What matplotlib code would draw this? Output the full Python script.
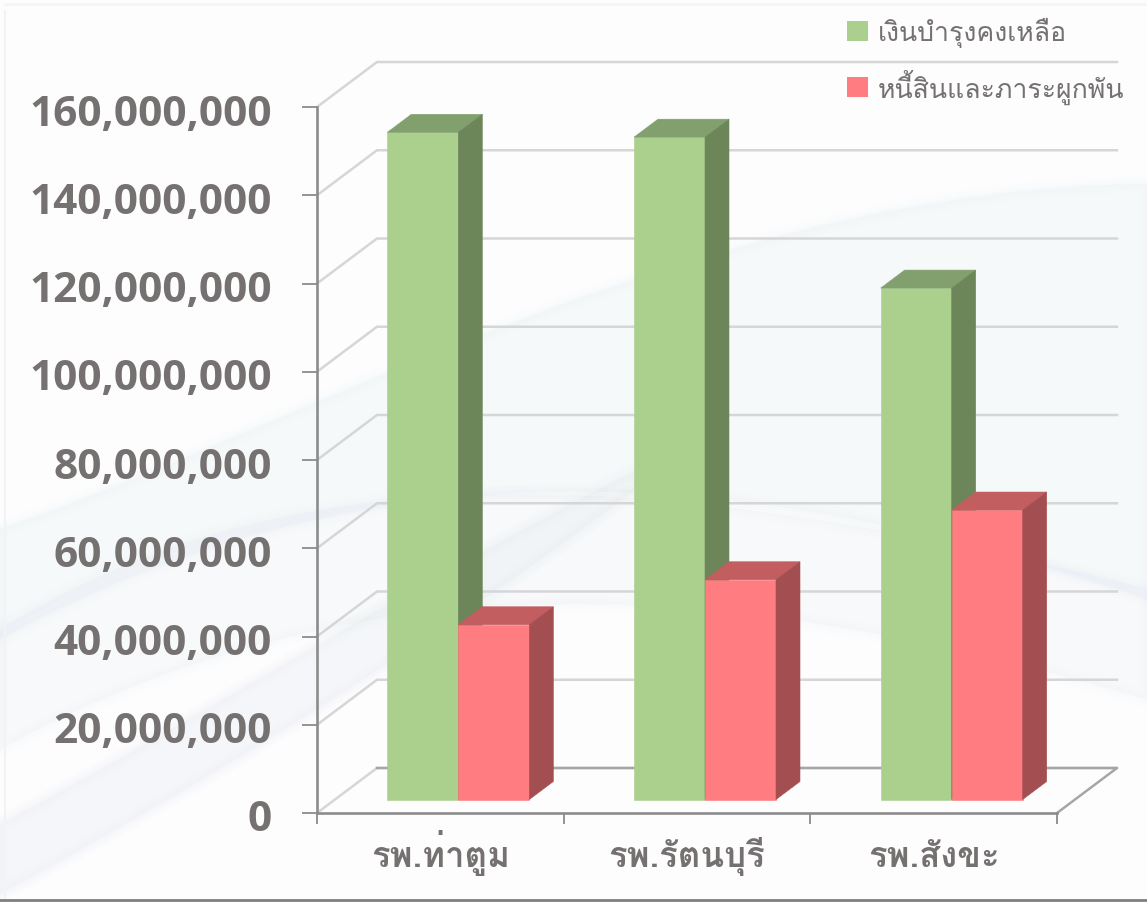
import matplotlib
matplotlib.use('Agg')
import matplotlib.pyplot as plt
from matplotlib.patches import Patch, PathPatch, Polygon
from matplotlib.path import Path
from matplotlib.transforms import ScaledTranslation

categories = ['รพ.ท่าตูม', 'รพ.รัตนบุรี', 'รพ.สังขะ']
balance = [151200000, 150100000, 115900000]
debt = [39600000, 49800000, 65600000]
series_names = ['เงินบำรุงคงเหลือ', 'หนี้สินและภาระผูกพัน']
y_ticks = list(range(0, 160000001, 20000000))

W, H = 1147, 903
text_color = '#767171'
green = ('#ABD08D', '#82A06E', '#6D8659')
red = ('#FF7C80', '#C25D60', '#A34F51')

fig = plt.figure(figsize=(W / 100, H / 100), dpi=100, facecolor='#FDFDFE')

# ------ background swooshes, in pixel coords
bg = fig.add_axes([0, 0, 1, 1], zorder=0)
bg.set_xlim(0, W)
bg.set_ylim(H, 0)
bg.axis('off')

def swoosh(points, color, alpha):
    codes = [Path.MOVETO] + [Path.CURVE4] * (len(points) - 1) + [Path.CLOSEPOLY]
    # stacked strokes fake a soft edge
    for k in range(4):
        bg.add_patch(PathPatch(Path(points + [points[0]], codes), fc=color, ec=color,
                               lw=k * 4, alpha=alpha / 4, joinstyle='round'))

swoosh([(0, 530), (300, 430), (700, 190), (1147, 185),
        (1147, 300), (1147, 450), (1147, 600),
        (800, 480), (400, 420), (0, 640)], '#E8F0F8', 0.28)
swoosh([(0, 630), (250, 480), (550, 440), (1147, 590),
        (1147, 640), (1147, 700), (1147, 700),
        (800, 600), (400, 530), (0, 750)], '#E8EFF7', 0.22)
swoosh([(0, 825), (200, 720), (450, 560), (700, 440),
        (500, 600), (250, 760), (0, 895),
        (0, 880), (0, 850), (0, 825)], '#E4E9F0', 0.26)
bg.plot([5, 5], [12, 903], color='#F3F3F3', lw=1.5)
bg.plot([5, W], [5, 5], color='#F6F6F6', lw=2)
bg.plot([0, W], [901.5, 901.5], color='#7F7F7F', lw=2)

# ------ chart, front plane spans x 317-1057, y 814-108 px
ax = fig.add_axes([317 / W, 1 - 814 / H, 740 / W, 706 / H], zorder=1)
ax.patch.set_alpha(0)
ax.set_xlim(0, 3)
ax.set_ylim(0, 160000000)

dx = 60 / (740 / 3)
dy = 45 / 706 * 160000000

def proj(x, v, z):
    return (x + z * dx, v + z * dy)

# floor and walls
for v in y_ticks:
    ax.plot([proj(0, v, 0)[0], proj(0, v, 1)[0], proj(3, v, 1)[0]],
            [proj(0, v, 0)[1], proj(0, v, 1)[1], proj(3, v, 1)[1]],
            color='#D6D6D6', lw=1.8, clip_on=False, zorder=1, solid_joinstyle='miter')
ax.plot([proj(3, 0, 0)[0], proj(3, 0, 1)[0], proj(0, 0, 1)[0]],
        [proj(3, 0, 0)[1], proj(3, 0, 1)[1], proj(0, 0, 1)[1]],
        color='#A6A6A6', lw=1.8, clip_on=False, zorder=1.1)

bar_w = 71 / (740 / 3)
z0, z1 = 0.3, 0.7

def bar3d(x0, x1, v, cols, zo):
    front, top, side = cols
    faces = [
        ([proj(x0, 0, z0), proj(x1, 0, z0), proj(x1, v, z0), proj(x0, v, z0)], front),
        ([proj(x0, v, z0), proj(x1, v, z0), proj(x1, v, z1), proj(x0, v, z1)], top),
        ([proj(x1, 0, z0), proj(x1, 0, z1), proj(x1, v, z1), proj(x1, v, z0)], side),
    ]
    for pts, c in faces:
        ax.add_patch(Polygon(pts, closed=True, fc=c, ec=c, lw=0.4, clip_on=False, zorder=zo))

for i in range(len(categories)):
    c = i + 0.5
    bar3d(c - bar_w, c, balance[i], green, 3 + i)
    bar3d(c, c + bar_w, debt[i], red, 3.5 + i)

for s in ['top', 'right']:
    ax.spines[s].set_visible(False)
for s in ['left', 'bottom']:
    ax.spines[s].set_color('#8C8C8C')
    ax.spines[s].set_linewidth(1.9)
    ax.spines[s].set_zorder(2)

ax.set_yticks(y_ticks)
ax.set_yticklabels([f'{v:,}' for v in y_ticks], family='Open Sans', fontweight='bold',
                   fontsize=30.5, color=text_color)
ax.tick_params(axis='y', length=10.5, width=1.3, color='#8C8C8C', pad=22)
shift = ScaledTranslation(0, -2 / 100, fig.dpi_scale_trans)
for lbl in ax.get_yticklabels():
    lbl.set_transform(lbl.get_transform() + shift)

ax.set_xticks([0, 1, 2, 3])
ax.set_xticklabels([])
ax.tick_params(axis='x', which='major', length=8, width=1.3, color='#8C8C8C')
ax.set_xticks([0.5, 1.5, 2.5], minor=True)
ax.set_xticklabels(categories, minor=True, family='Loma', fontweight='bold',
                   fontsize=25, color=text_color)
ax.tick_params(axis='x', which='minor', length=0, pad=38)
for tick in ax.xaxis.get_minor_ticks():
    tick.label1.set_verticalalignment('baseline')

handles = [Patch(fc=green[0], ec='none'), Patch(fc=red[0], ec='none')]
fig.legend(handles, series_names, loc='upper left', bbox_to_anchor=(839 / W, 1 - 10 / H),
           frameon=False, prop={'family': 'Loma', 'size': 19.2}, labelcolor=text_color,
           handlelength=0.79, handleheight=0.79, handletextpad=0.375, labelspacing=0.8,
           borderpad=0.3, borderaxespad=0)

fig.savefig('out.png', dpi=100, facecolor=fig.get_facecolor())
